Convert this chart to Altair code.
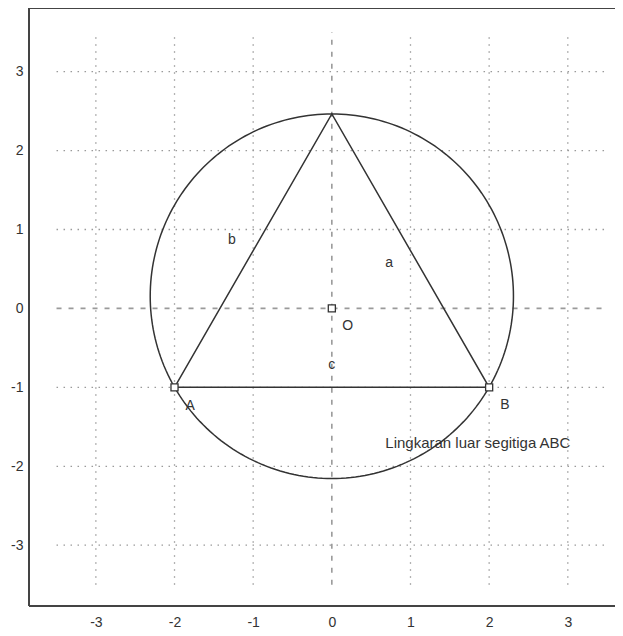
import altair as alt
import numpy as np
import pandas as pd

# ---- data ----
vert_names = ["A", "B", "C"]
vert_x = [-2.0, 2.0, 0.0]
vert_y = [-1.0, -1.0, 2.464]

circle_center = [0.0, 0.155]
circle_radius = 2.309

marker_names = ["A", "B", "O"]
marker_x = [-2.0, 2.0, 0.0]
marker_y = [-1.0, -1.0, 0.0]

label_text = ["a", "b", "c", "O", "A", "B"]
label_x = [0.73, -1.27, 0.0, 0.2, -1.8, 2.2]
label_y = [0.57, 0.87, -0.72, -0.22, -1.23, -1.22]

title_text = ["Lingkaran luar segitiga ABC"]
title_x = [0.68]
title_y = [-1.70]

grid_vals = [-3, -2, -1, 1, 2, 3]
tick_vals = [-3, -2, -1, 0, 1, 2, 3]
grid_extent = [-3.5, 3.5]
x_domain = [-3.85, 3.60]
y_domain = [-3.77, 3.806]

FONT = "Liberation Sans"
INK = "#333333"
GRID = "#9a9a9a"
FRAME = "#444444"

xs = alt.Scale(domain=x_domain, nice=False, zero=False)
ys = alt.Scale(domain=y_domain, nice=False, zero=False)

xaxis = alt.Axis(values=tick_vals, grid=False, ticks=False, domain=False, title=None,
                 labelExpr="'' + datum.value",
                 labelFont=FONT, labelFontSize=14, labelColor=INK, labelPadding=9)
yaxis = alt.Axis(values=tick_vals, grid=False, ticks=False, domain=False, title=None,
                 labelExpr="'' + datum.value",
                 labelFont=FONT, labelFontSize=14, labelColor=INK, labelPadding=6)

# grid lines
gdf = pd.DataFrame({"g": grid_vals, "lo": grid_extent[0], "hi": grid_extent[1]})
vgrid = alt.Chart(gdf).mark_rule(color=GRID, strokeWidth=1.3, strokeDash=[1.5, 5.5]).encode(
    x=alt.X("g:Q", scale=xs, axis=xaxis),
    y=alt.Y("lo:Q", scale=ys, axis=yaxis),
    y2="hi:Q",
)
hgrid = alt.Chart(gdf).mark_rule(color=GRID, strokeWidth=1.3, strokeDash=[1.5, 5.5]).encode(
    y=alt.Y("g:Q", scale=ys),
    x=alt.X("lo:Q", scale=xs),
    x2="hi:Q",
)

# dashed zero axes
zdf = pd.DataFrame({"z": [0], "lo": [grid_extent[0]], "hi": [grid_extent[1]]})
vzero = alt.Chart(zdf).mark_rule(color=GRID, strokeWidth=1.6, strokeDash=[5, 7]).encode(
    x=alt.X("z:Q", scale=xs), y=alt.Y("lo:Q", scale=ys), y2="hi:Q"
)
hzero = alt.Chart(zdf).mark_rule(color=GRID, strokeWidth=1.6, strokeDash=[5, 7]).encode(
    y=alt.Y("z:Q", scale=ys), x=alt.X("lo:Q", scale=xs), x2="hi:Q"
)

# frame (left, top, bottom; the right side lies beyond the picture)
fdf_v = pd.DataFrame({"x": [x_domain[0]], "lo": [y_domain[0]], "hi": [y_domain[1]]})
fdf_h = pd.DataFrame({"y": [y_domain[0], y_domain[1]], "lo": x_domain[0], "hi": x_domain[1] + 0.2})
frame_v = alt.Chart(fdf_v).mark_rule(color=FRAME, strokeWidth=2, clip=False).encode(
    x=alt.X("x:Q", scale=xs), y=alt.Y("lo:Q", scale=ys), y2="hi:Q"
)
frame_h = alt.Chart(fdf_h).mark_rule(color=FRAME, strokeWidth=2, clip=False).encode(
    y=alt.Y("y:Q", scale=ys), x=alt.X("lo:Q", scale=xs), x2="hi:Q"
)

# circumcircle
t = np.linspace(0, 2 * np.pi, 241)
cdf = pd.DataFrame({
    "i": np.arange(len(t)),
    "x": circle_center[0] + circle_radius * np.cos(t),
    "y": circle_center[1] + circle_radius * np.sin(t),
})
circle = alt.Chart(cdf).mark_line(color=INK, strokeWidth=1.5).encode(
    x=alt.X("x:Q", scale=xs), y=alt.Y("y:Q", scale=ys), order="i:Q"
)

# triangle
tdf = pd.DataFrame({
    "i": [0, 1, 2, 3],
    "x": vert_x + [vert_x[0]],
    "y": vert_y + [vert_y[0]],
})
tri = alt.Chart(tdf).mark_line(color=INK, strokeWidth=1.5).encode(
    x=alt.X("x:Q", scale=xs), y=alt.Y("y:Q", scale=ys), order="i:Q"
)

# square markers
mdf = pd.DataFrame({"n": marker_names, "x": marker_x, "y": marker_y})
marks = alt.Chart(mdf).mark_point(shape="square", filled=True, fill="white", stroke=INK,
                                  strokeWidth=1.3, size=50, opacity=1).encode(
    x=alt.X("x:Q", scale=xs), y=alt.Y("y:Q", scale=ys)
)

# labels
ldf = pd.DataFrame({"t": label_text, "x": label_x, "y": label_y})
labels = alt.Chart(ldf).mark_text(font=FONT, fontSize=14, color=INK, align="center",
                                  baseline="middle").encode(
    x=alt.X("x:Q", scale=xs), y=alt.Y("y:Q", scale=ys), text="t:N"
)

ttdf = pd.DataFrame({"t": title_text, "x": title_x, "y": title_y})
title = alt.Chart(ttdf).mark_text(font=FONT, fontSize=15, color=INK, align="left",
                                  baseline="middle").encode(
    x=alt.X("x:Q", scale=xs), y=alt.Y("y:Q", scale=ys), text="t:N"
)

chart = alt.layer(vgrid, hgrid, vzero, hzero, circle, tri, marks, labels, title,
                  frame_v, frame_h).properties(
    width=586, height=598,
    autosize=alt.AutoSizeParams(type="none"),
    padding={"left": 21, "top": 0, "right": 0, "bottom": 22},
).configure_view(strokeWidth=0)

chart.save("out.html", embed_options={"renderer": "svg", "actions": False})
